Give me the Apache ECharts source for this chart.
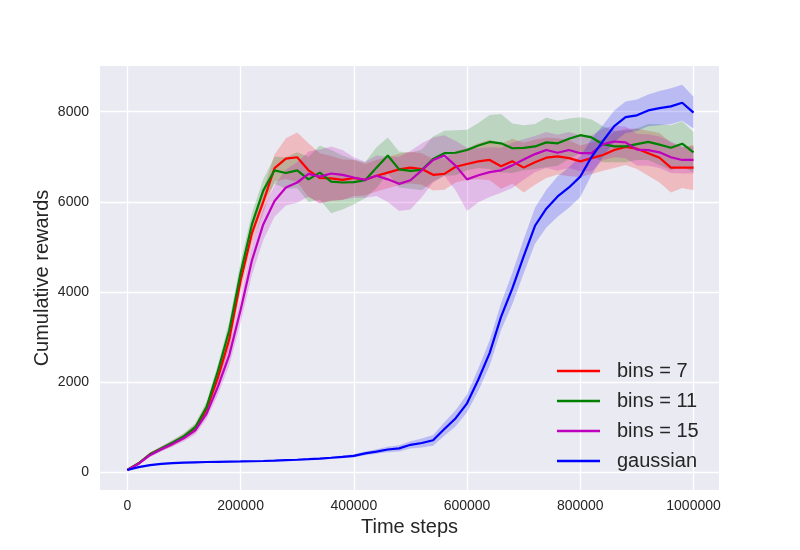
<!DOCTYPE html>
<html><head><meta charset="utf-8">
<script src="https://cdn.jsdelivr.net/npm/echarts@6/dist/echarts.min.js"></script>
<style>html,body{margin:0;padding:0;background:#fff}#c{width:800px;height:550px}</style>
</head><body><div id="c"></div>
<script>
const steps = [0,20000,40000,60000,80000,100000,120000,140000,160000,180000,
  200000,220000,240000,260000,280000,300000,320000,340000,360000,380000,
  400000,420000,440000,460000,480000,500000,520000,540000,560000,580000,
  600000,620000,640000,660000,680000,700000,720000,740000,760000,780000,
  800000,820000,840000,860000,880000,900000,920000,940000,960000,980000,1000000];

const seriesNames = ['bins = 7', 'bins = 11', 'bins = 15', 'gaussian'];

const bins7Mean = [50,200,400,525,640,785,975,1400,2100,2950,
  4250,5300,6000,6750,6960,6990,6700,6530,6520,6490,
  6530,6490,6580,6650,6720,6760,6730,6600,6620,6780,
  6840,6900,6930,6790,6900,6760,6880,6980,7010,6970,
  6900,6970,7040,7150,7220,7180,7080,6980,6760,6760,6760];
const bins7Spread = [10,30,40,50,60,70,90,120,150,200,
  250,250,250,300,450,550,600,550,500,450,
  400,350,350,350,350,350,350,350,350,350,
  350,400,450,500,500,550,500,450,400,400,
  350,350,350,400,400,450,500,550,550,450,500];

const bins11Mean = [50,200,400,530,660,800,1000,1450,2250,3150,
  4420,5500,6250,6700,6640,6700,6500,6650,6450,6430,
  6440,6480,6760,7030,6720,6690,6710,6950,7080,7090,
  7150,7250,7330,7300,7190,7200,7230,7320,7300,7400,
  7480,7430,7280,7230,7230,7280,7330,7270,7200,7290,7100];
const bins11Spread = [10,30,40,50,60,70,90,120,150,200,
  250,250,250,300,350,400,500,600,700,600,
  500,400,450,400,400,400,450,500,500,500,
  450,500,600,650,550,500,500,550,500,450,
  400,400,400,350,350,350,400,450,500,500,450];

const bins15Mean = [50,190,380,510,630,760,930,1300,1900,2600,
  3600,4700,5500,6020,6320,6430,6620,6560,6630,6600,
  6540,6490,6580,6500,6400,6480,6700,6930,7030,6800,
  6500,6590,6660,6700,6810,6940,7060,7150,7090,7150,
  7080,7080,7280,7340,7320,7160,7150,7100,6990,6930,6930];
const bins15Spread = [10,30,40,50,60,70,90,120,180,230,
  280,320,350,350,400,450,500,600,600,550,
  450,400,450,500,600,650,600,500,450,550,
  700,600,550,500,500,450,400,400,400,400,
  400,400,350,350,350,350,350,350,350,300,300];

const gaussianMean = [50,115,160,185,205,215,222,228,232,236,
  240,245,250,258,268,278,290,305,322,340,
  365,420,460,505,530,610,650,710,960,1200,
  1530,2060,2650,3450,4080,4790,5470,5850,6120,6320,
  6560,7000,7350,7680,7880,7920,8030,8080,8120,8200,7980];
const gaussianSpread = [5,10,15,15,15,15,15,15,15,15,
  15,15,15,20,20,20,20,25,25,30,
  35,40,50,60,70,80,100,120,150,180,
  200,250,280,300,350,380,400,420,450,450,
  450,400,350,350,350,350,350,380,400,400,350];

const defs = [
  {name: seriesNames[0], mean: bins7Mean, spread: bins7Spread, color: '#ff0000', band: 'rgba(255,0,0,0.2)'},
  {name: seriesNames[1], mean: bins11Mean, spread: bins11Spread, color: '#008000', band: 'rgba(0,128,0,0.2)'},
  {name: seriesNames[2], mean: bins15Mean, spread: bins15Spread, color: '#bf00bf', band: 'rgba(191,0,191,0.2)'},
  {name: seriesNames[3], mean: gaussianMean, spread: gaussianSpread, color: '#0000ff', band: 'rgba(0,0,255,0.2)'}
];

const series = [];
defs.forEach((d) => {
  series.push({
    type: 'custom', name: d.name + ' band', silent: true, z: 1, clip: true,
    data: steps.map((x, j) => [x, d.mean[j] - d.spread[j], d.mean[j] + d.spread[j]]),
    encode: {x: 0, y: [1, 2]},
    renderItem: (params, api) => {
      if (params.dataIndex !== 0) return null;
      const up = [], lo = [];
      for (let j = 0; j < steps.length; j++) {
        up.push(api.coord([steps[j], d.mean[j] + d.spread[j]]));
        lo.push(api.coord([steps[j], d.mean[j] - d.spread[j]]));
      }
      return {type: 'polygon', shape: {points: up.concat(lo.reverse())}, style: {fill: d.band}};
    }
  });
});
defs.forEach(d => {
  series.push({
    type: 'line', name: d.name,
    data: steps.map((x, j) => [x, d.mean[j]]),
    symbol: 'none', showSymbol: false,
    lineStyle: {color: d.color, width: 2.2}, itemStyle: {color: d.color}, z: 3
  });
});

const font = "'Liberation Sans', Arial, sans-serif";
const chart = echarts.init(document.getElementById('c'), null, {renderer: 'canvas'});
chart.setOption({
  animation: false,
  backgroundColor: '#ffffff',
  grid: {left: 100, right: 81, top: 66, bottom: 60, show: true, backgroundColor: '#EAEAF2', borderWidth: 0},
  xAxis: {
    type: 'value', min: -48300, max: 1045000, splitNumber: 5,
    axisLine: {show: false}, axisTick: {show: false},
    axisLabel: {color: '#262626', fontSize: 14, fontFamily: font, margin: 9,
      showMinLabel: false, showMaxLabel: false, formatter: v => String(v)},
    splitLine: {show: true, showMinLine: false, showMaxLine: false, lineStyle: {color: '#ffffff', width: 1.3}},
    name: 'Time steps', nameLocation: 'middle', nameGap: 27, nameMoveOverlap: false,
    nameTextStyle: {color: '#262626', fontSize: 20, fontFamily: font}
  },
  yAxis: {
    type: 'value', min: -393, max: 9015, splitNumber: 5,
    axisLine: {show: false}, axisTick: {show: false},
    axisLabel: {color: '#262626', fontSize: 14, fontFamily: font, margin: 11,
      showMinLabel: false, showMaxLabel: false, formatter: v => String(v)},
    splitLine: {show: true, showMinLine: false, showMaxLine: false, lineStyle: {color: '#ffffff', width: 1.3}},
    name: 'Cumulative rewards', nameLocation: 'middle', nameGap: 48, nameMoveOverlap: false,
    nameTextStyle: {color: '#262626', fontSize: 20, fontFamily: font}
  },
  legend: {
    data: seriesNames.map((n, i) => ({name: n, icon: 'rect', itemStyle: {color: defs[i].color}})),
    orient: 'vertical', left: 557, top: 361, padding: 0,
    itemWidth: 43, itemHeight: 2.5, itemGap: 10,
    textStyle: {color: '#262626', fontSize: 20, fontFamily: font, padding: [0, 0, 0, 12]}
  },
  series: series
});
</script></body></html>
